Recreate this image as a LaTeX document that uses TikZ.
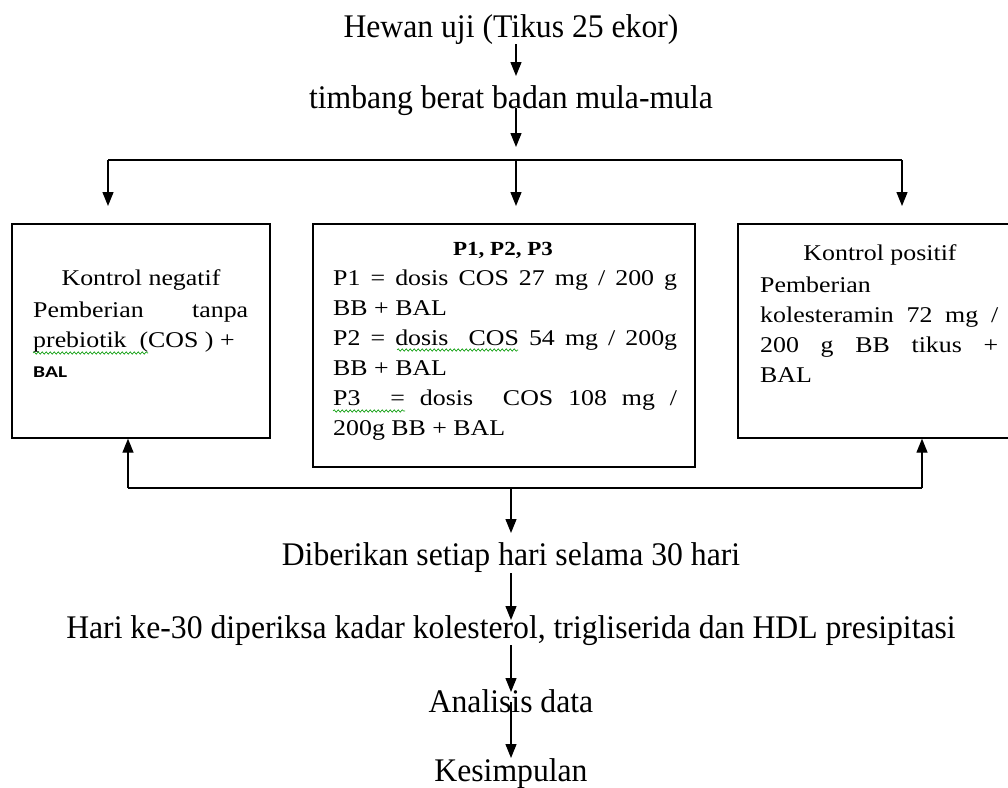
\documentclass[tikz,border=0pt]{standalone}
\usepackage{fontspec}
\setmainfont{Liberation Serif}
\newfontfamily\topfnt[FakeStretch=0.96]{Liberation Serif}
\newfontfamily\bxfnt[FakeStretch=1.15]{Liberation Serif}
\newfontfamily\calfnt[FakeStretch=1.3]{Carlito}
\usetikzlibrary{arrows.meta,decorations.pathmorphing}
\begin{document}
\begin{tikzpicture}[x=1pt,y=-1pt,
  ln/.style={line width=1.3pt},
  arr/.style={line width=1.3pt,-{Triangle[length=14pt,width=11pt]}},
  maintxt/.style={inner sep=0pt,anchor=base,font=\topfnt\fontsize{33}{33}\selectfont},
  boxtxt/.style={inner sep=0pt,anchor=base west,font=\bxfnt\fontsize{22.5}{22.5}\selectfont},
  boxhead/.style={inner sep=0pt,anchor=base,font=\bxfnt\fontsize{22.5}{22.5}\selectfont},
  frame/.style={draw,line width=1.3pt,inner sep=0pt},
  spell/.style={draw=green!60!black,line width=0.6pt,decorate,decoration={snake,amplitude=1.2pt,segment length=4pt}}]
\useasboundingbox (0,0) rectangle (1008,787);
\fill[white] (0,0) rectangle (1008,787);

% main flow texts
\node[maintxt] (hewan) at (511,37) {Hewan uji (Tikus 25 ekor)};
\node[maintxt] (timbang) at (511,108) {timbang berat badan mula-mula};
\node[maintxt] (diberi) at (511,565) {Diberikan setiap hari selama 30 hari};
\node[maintxt] (hari) at (511,638) {Hari ke-30 diperiksa kadar kolesterol, trigliserida dan HDL presipitasi};
\node[maintxt] (anal) at (511,712) {Analisis data};
\node[maintxt] (kes) at (511,781) {Kesimpulan};

% boxes
\node[frame,minimum width=258pt,minimum height=214pt] (kneg) at (141,331) {};
\node[frame,minimum width=382pt,minimum height=243pt] (pbox) at (504,345.5) {};
\node[frame,minimum width=280pt,minimum height=214pt] (kpos) at (878,331) {};

% left box text
\node[boxhead] (kn1) at (141,285) {Kontrol negatif};
\node[boxtxt] (kn2) at (33,317) {\makebox[215pt][s]{Pemberian tanpa}};
\node[boxtxt] (kn3) at (33,347) {prebiotik\ \ (COS ) +};
\node[boxtxt,font=\calfnt\bfseries\fontsize{16.5}{16.5}\selectfont] (kn4) at (33,377) {BAL};
\draw[spell] (33,353) -- (148,353);

% middle box text
\node[boxhead,font=\bxfnt\bfseries\fontsize{20}{20}\selectfont] (p0) at (503,255) {P1, P2, P3};
\node[boxtxt] (p1) at (333,285) {\makebox[344pt][s]{P1 = dosis COS 27 mg / 200 g}};
\node[boxtxt] (p2) at (333,315) {BB + BAL};
\node[boxtxt] (p3) at (333,345) {\makebox[344pt][s]{P2 = dosis\ \ COS 54 mg / 200g}};
\node[boxtxt] (p4) at (333,375) {BB + BAL};
\node[boxtxt] (p5) at (333,405) {\makebox[344pt][s]{P3\ \ = dosis\ \ COS 108 mg /}};
\node[boxtxt] (p6) at (333,435) {200g BB + BAL};
\draw[spell] (397,350) -- (518,350);
\draw[spell] (333,411) -- (405,411);

% right box text
\node[boxhead] (kp1) at (880,260) {Kontrol positif};
\node[boxtxt] (kp2) at (760,292) {Pemberian};
\node[boxtxt] (kp3) at (760,322) {\makebox[238pt][s]{kolesteramin 72 mg /}};
\node[boxtxt] (kp4) at (760,352) {\makebox[238pt][s]{200 g BB tikus +}};
\node[boxtxt] (kp5) at (760,382) {BAL};

% top connectors
\coordinate (a1s) at (516,44);
\coordinate (a1e) at (516,76);
\coordinate (a2s) at (516,108);
\coordinate (a2e) at (516,147);
\draw[arr] (a1s) -- (a1e);
\draw[arr] (a2s) -- (a2e);
\coordinate (tl) at (108,160);
\coordinate (tm) at (516,160);
\coordinate (tr) at (902,160);
\draw[ln] (tl) -- (tr);
\draw[arr] (tl) -- (108,206);
\draw[arr] (tm) -- (516,206);
\draw[arr] (tr) -- (902,206);

% bottom connectors
\coordinate (bl) at (128,488);
\coordinate (br) at (922,488);
\coordinate (bm) at (511,488);
\draw[ln] (bl) -- (br);
\draw[arr] (bl) -- (kneg.south -| bl);
\draw[arr] (br) -- (kpos.south -| br);
\draw[arr] (bm) -- (511,533);
\coordinate (c1s) at (511,573);
\coordinate (c1e) at (511,620);
\draw[arr] (c1s) -- (c1e);
\coordinate (c2s) at (511,645);
\coordinate (c2e) at (511,692);
\draw[arr] (c2s) -- (c2e);
\coordinate (c3s) at (511,702);
\coordinate (c3e) at (511,758);
\draw[arr] (c3s) -- (c3e);
\end{tikzpicture}
\end{document}
